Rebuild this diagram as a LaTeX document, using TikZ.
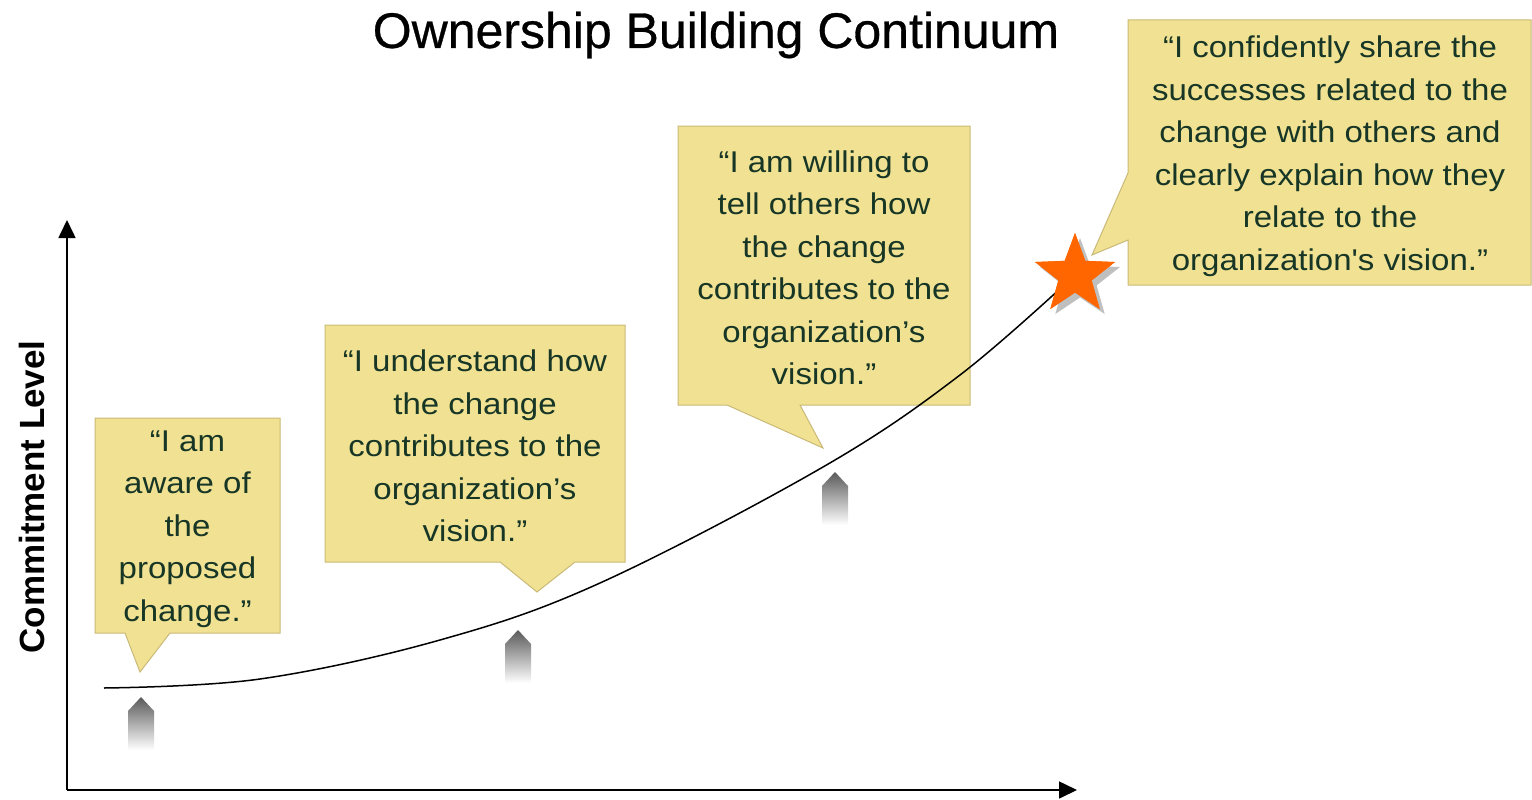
\documentclass[tikz,border=0pt]{standalone}
\usepackage{fontspec}
\setmainfont{Liberation Sans}[Ligatures=TeXOff]
\usetikzlibrary{arrows.meta,shapes.geometric,shadows}
\definecolor{boxfill}{HTML}{F1E293}
\definecolor{boxline}{HTML}{C9B978}
\definecolor{quotetext}{HTML}{173626}
\definecolor{starorange}{HTML}{FF6600}
\tikzset{
  bubble/.style={fill=boxfill, draw=boxline, line width=1pt},
  quote/.style={text=quotetext, align=center, inner sep=0pt,
    font=\fontsize{30}{42.5}\selectfont\addfontfeature{FakeStretch=1.1}},
  riser/.style={top color=black!65, bottom color=white, draw=none},
  axis/.style={line width=1.6pt, -{Triangle[length=18pt,width=17pt]}},
}
\begin{document}
\begin{tikzpicture}[x=1pt, y=-1pt]
   \useasboundingbox (0,0) rectangle (1532,800);
   % title and axes
   \node (title) at (716,35) {\fontsize{50}{54}\selectfont\addfontfeature{FakeBold=0.6}Ownership Building Continuum};
   \coordinate (origin) at (67,790);
   \coordinate (ytop) at (67,220);
   \coordinate (xend) at (1077,790);
   \draw[axis] (origin) -- (ytop);
   \draw[axis] (origin) -- (xend);
   \node[rotate=90] (ylabel) at (32,497) {\fontsize{35}{38}\selectfont\bfseries Commitment Level};
   % speech bubbles
   \draw[bubble] (95,418) -- (280,418) -- (280,633) -- (170,633) -- (140,672)
      -- (125,633) -- (95,633) -- cycle;
   \node[quote] (aware) at (187.5,529) {“I am\\aware of\\the\\proposed\\change.”};
   \draw[bubble] (325,325) -- (625,325) -- (625,562) -- (575,562) -- (537,592)
      -- (500,562) -- (325,562) -- cycle;
   \node[quote] (understand) at (475,446) {“I understand how\\the change\\contributes to the\\organization’s\\vision.”};
   \draw[bubble] (678,126) -- (970,126) -- (970,405) -- (800,405) -- (823,448)
      -- (727,405) -- (678,405) -- cycle;
   \node[quote] (willing) at (824,268) {“I am willing to\\tell others how\\the change\\contributes to the\\organization’s\\vision.”};
   \draw[bubble] (1128,20) -- (1531,20) -- (1531,285) -- (1128,285) -- (1128,240)
      -- (1092,255) -- (1128,173) -- cycle;
   \node[quote] (share) at (1330,156) {“I confidently share the\\successes related to the\\change with others and\\clearly explain how they\\relate to the\\organization's vision.”};
   % small arrows under the curve
   \foreach \x/\y in {141/697, 518/630, 835/472}
      \shade[riser] (\x-13,\y+53) -- (\x-13,\y+14) -- (\x,\y) -- (\x+13,\y+14)
         -- (\x+13,\y+53) -- cycle;
   % goal star and curve
   \node[star, star points=5, star point ratio=2.4, minimum size=84pt, inner sep=0pt,
      fill=starorange, drop shadow={shadow xshift=5pt, shadow yshift=-5pt, fill=black!25, opacity=1}]
      (goal) at (1075,275) {};
   \coordinate (start) at (104,688);
   \draw[line width=1.5pt] plot[smooth, tension=0.6] coordinates
      {(start) (260,679) (440,640) (600,583) (823,467) (960,375) (goal.center)};
   \node[star, star points=5, star point ratio=2.4, minimum size=84pt, inner sep=0pt,
      fill=starorange] (goaltop) at (goal) {};
\end{tikzpicture}
\end{document}
